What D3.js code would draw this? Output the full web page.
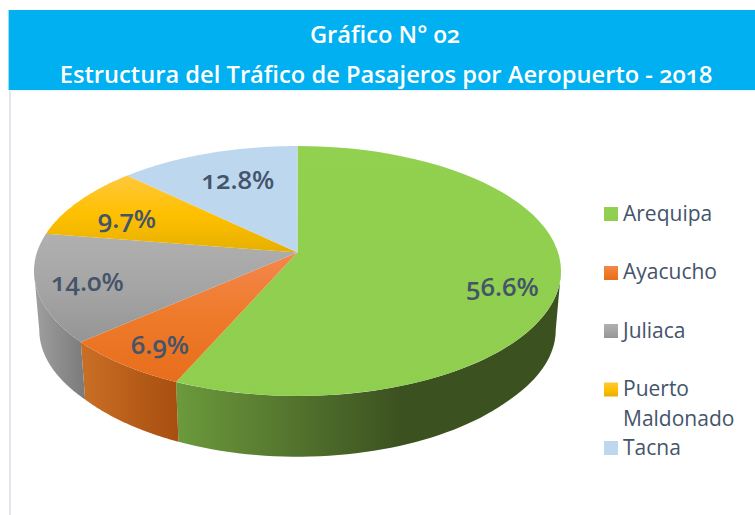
<!DOCTYPE html>
<html><head><meta charset="utf-8">
<script src="https://cdn.jsdelivr.net/npm/d3@7"></script>
<style>html,body{margin:0;padding:0;background:#fff}svg{display:block}</style>
</head><body>
<svg id="c" width="755" height="515"></svg>
<script>
const categories = ["Arequipa","Ayacucho","Juliaca","Puerto Maldonado","Tacna"];
const shares = [56.6,6.9,14.0,9.7,12.8];
const labels = ["56.6%","6.9%","14.0%","9.7%","12.8%"];
const titleLines = ["Gráfico N° 02","Estructura del Tráfico de Pasajeros por Aeropuerto - 2018"];
const topStops = [["#92D050","#8FCE4E"],["#F4874D","#EE7A2A","#E76E1C"],["#B0B0B0","#A5A5A5","#959595"],["#FFC83D","#FFC000","#E6B000"],["#BDD7EE","#BDD7EE"]];
const sideStops = [["#6C9A3C","#3C5120"],["#C96F25","#A84E10"],["#A0A0A0","#7A7A7A"],["#C09000","#8A6800"],["#8CA0B2","#6F8090"]];
const ink = "#44546A";
const FONT = "'Open Sans',sans-serif";

const svg = d3.select("#c");
const defs = svg.append("defs");
// header
svg.append("rect").attr("x",8.6).attr("y",10).attr("width",746.4).attr("height",80).attr("fill","#00B0F0");
svg.append("rect").attr("x",9).attr("y",90).attr("width",2).attr("height",425).attr("fill","#E1E5EC");
svg.append("rect").attr("x",9).attr("y",90).attr("width",746).attr("height",1.2).attr("fill","#EEF1F5");
svg.selectAll("text.t").data(titleLines).enter().append("text").attr("class","t")
  .attr("x",(d,i)=>i?386:385).attr("y",(d,i)=>i?83:43).attr("text-anchor","middle").attr("fill","#fff")
  .style("font-family",FONT).style("font-weight",600).style("font-size","23.7px")
  .style("font-feature-settings","'onum'")
  .text(d=>d);

// perspective projection of the pie disc
const ax=297.5, ay=252.5, A=260.6, B=122.26, k=-0.148;
const proj=(t)=>{const u=Math.sin(t),v=-Math.cos(t),w=1+k*v;return [A*u/w,B*v/w];};
const topP=t=>{const p=proj(t);return [ax+p[0],ay+p[1]];};
const lowY=d3.scaleLinear().domain([18.5,89.6,143.5]).range([330,399.5,456.7]);
const lowP=t=>{const p=proj(t);return [ax+0.98*p[0],lowY(p[1])];};

const pie=d3.pie().sort(null).value(d=>d);
const arcs=pie(shares);
const line=d3.line();
const sample=(a,b)=>d3.range(0,61).map(i=>a+(b-a)*i/60);
const rad=Math.PI/180;

// walls (only the visible, front-facing arc between the two silhouette points)
const visFrom=98.5*rad, visTo=261.5*rad;
arcs.forEach((d,i)=>{
  const a=Math.max(d.startAngle,visFrom), b=Math.min(d.endAngle,visTo);
  if(b<=a) return;
  const up=sample(a,b).map(topP), lo=sample(b,a).map(lowP);
  const pts=up.concat(lo);
  const xs=pts.map(p=>p[0]);
  const id="s"+i;
  const g=defs.append("linearGradient").attr("id",id).attr("gradientUnits","userSpaceOnUse")
    .attr("x1",d3.min(xs)).attr("x2",i===0?Math.min(400,d3.max(xs)):d3.max(xs)).attr("y1",0).attr("y2",0);
  g.append("stop").attr("offset",0).attr("stop-color",sideStops[i][0]);
  g.append("stop").attr("offset",1).attr("stop-color",sideStops[i][1]);
  svg.append("path").attr("d",line(pts)+"Z").attr("fill",`url(#${id})`);
});
const addStops=(g,st)=>st.forEach((c,j)=>g.append("stop").attr("offset",j/(st.length-1)).attr("stop-color",c));
// top faces
arcs.forEach((d,i)=>{
  const pts=[[ax,ay]].concat(sample(d.startAngle,d.endAngle).map(topP));
  const ys=pts.map(p=>p[1]);
  const id="f"+i;
  const g=defs.append("linearGradient").attr("id",id).attr("gradientUnits","userSpaceOnUse")
    .attr("x1",0).attr("x2",0).attr("y1",d3.min(ys)).attr("y2",d3.max(ys));
  addStops(g,topStops[i]);
  const g2=defs.append("linearGradient").attr("id","k"+i).attr("x1",0).attr("x2",0).attr("y1",0).attr("y2",1);
  addStops(g2,topStops[i]);
  svg.append("path").attr("d",line(pts)+"Z").attr("fill",`url(#${id})`);
});
// value labels
const labelPos=[[502.5,287],[160,345],[87.5,282],[127,219],[238,180]];
svg.selectAll("text.v").data(labels).enter().append("text").attr("class","v")
  .attr("x",(d,i)=>labelPos[i][0]).attr("y",(d,i)=>labelPos[i][1]).attr("dy","0.35em")
  .attr("text-anchor","middle").attr("fill",ink)
  .style("font-family",FONT).style("font-weight",600).style("font-size","25.8px")
  .style("font-feature-settings","'onum'").text(d=>d);
// legend
const swatchY=[214,273,331,389.5,448];
const baseY=[221,279,338,396,455];
const lg=svg.selectAll("g.l").data(categories).enter().append("g").attr("class","l");
lg.append("rect").attr("x",604).attr("y",(d,i)=>swatchY[i]-7).attr("width",14).attr("height",14)
  .attr("fill",(d,i)=>`url(#k${i})`);
lg.each(function(d,i){
  const parts=d.split(" ");
  d3.select(this).selectAll("text").data(parts).enter().append("text")
    .attr("x",623).attr("y",(p,j)=>baseY[i]+j*30).attr("fill",ink)
    .style("font-family",FONT).style("font-size","21px").text(p=>p);
});
</script>
</body></html>
